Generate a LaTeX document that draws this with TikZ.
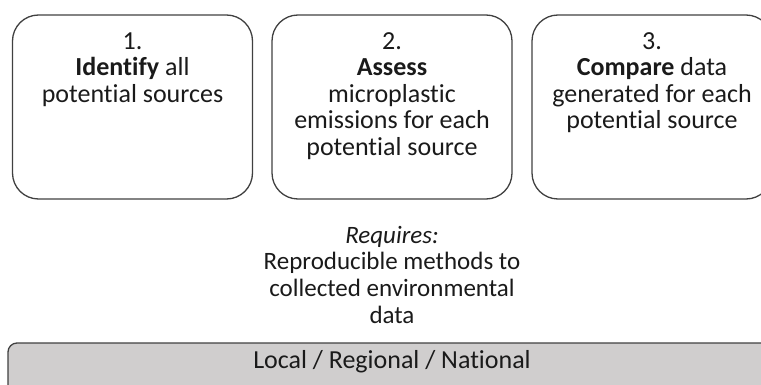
\documentclass[tikz,border=0pt]{standalone}
\usepackage{fontspec}
\setmainfont{Carlito}[Ligatures=NoCommon]
\definecolor{edge}{HTML}{404040}
\definecolor{barfill}{HTML}{D0CECE}
\definecolor{ink}{HTML}{1A1A1A}
\begin{document}
\begin{tikzpicture}[x=1pt,y=-1pt,
  stepbox/.style={draw=edge,line width=1.3pt,rounded corners=26pt,
    minimum width=240pt,minimum height=184pt,inner sep=0pt},
  steptext/.style={anchor=north,align=center,text=ink,inner sep=0pt,
    font=\fontsize{26}{26.4}\selectfont},
  reqtext/.style={steptext,font=\fontsize{25}{26.8}\selectfont},
  barbox/.style={draw=edge,line width=1.3pt,fill=barfill,rounded corners=9pt,
    minimum width=768pt,minimum height=60pt,inner sep=0pt}]
\useasboundingbox (0,0) rectangle (761,385);
\node[stepbox] (s1) at (132.5,107) {};
\node[stepbox] (s2) at (392,107) {};
\node[stepbox] (s3) at (652,107) {};
\node[steptext] (t1) at ([yshift=-18pt]s1.north) {1.\\\textbf{Identify} all\\potential sources};
\node[steptext] (t2) at ([yshift=-18pt]s2.north) {2.\\\textbf{Assess}\\microplastic\\emissions for each\\potential source};
\node[steptext] (t3) at ([yshift=-18pt]s3.north) {3.\\\textbf{Compare} data\\generated for each\\potential source};
\node[reqtext] (req) at ([yshift=-26pt]s2.south) {\textit{Requires:}\\Reproducible methods to\\collected environmental\\data};
\node[barbox] (bar) at (392,373) {};
\node[steptext,anchor=center] (bartext) at (392,362) {Local / Regional / National};
\end{tikzpicture}
\end{document}
